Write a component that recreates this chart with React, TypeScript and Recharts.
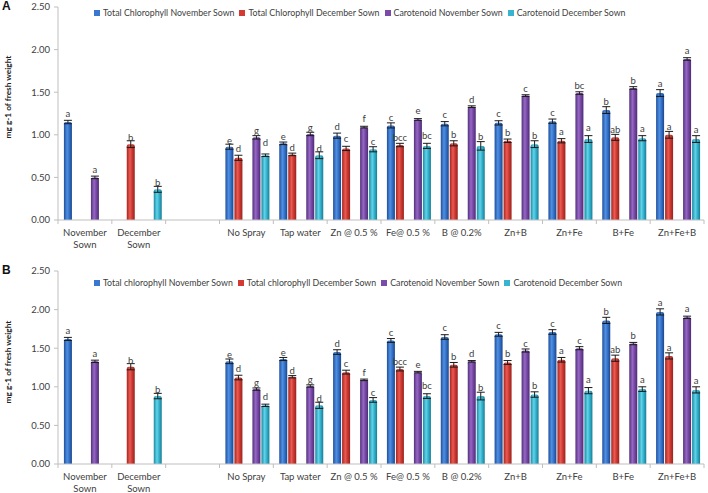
import React from 'react';
import { BarChart, Bar, XAxis, YAxis, ErrorBar, LabelList, Legend, Label } from 'recharts';

const categories = ['November\nSown', 'December\nSown', ' ', 'No Spray', 'Tap water', 'Zn @ 0.5 %', 'Fe@ 0.5 %', 'B @ 0.2%', 'Zn+B', 'Zn+Fe', 'B+Fe', 'Zn+Fe+B'];
const yTicks = [0, 0.5, 1, 1.5, 2, 2.5];

const seriesNamesA = ['Total Chlorophyll November Sown', 'Total Chlorophyll December Sown', 'Carotenoid November Sown', 'Carotenoid December Sown'];
const seriesNamesB = ['Total chlorophyll November Sown', 'Total chlorophyll December Sown', 'Carotenoid November Sown', 'Carotenoid December Sown'];

// Panel A
const chlNovA = [1.15, null, null, 0.86, 0.90, 0.99, 1.11, 1.13, 1.14, 1.16, 1.29, 1.49];
const chlDecA = [null, 0.89, null, 0.73, 0.77, 0.84, 0.88, 0.90, 0.93, 0.93, 0.97, 1.00];
const carNovA = [0.50, null, null, 0.97, 1.01, 1.09, 1.18, 1.33, 1.46, 1.49, 1.55, 1.89];
const carDecA = [null, 0.36, null, 0.76, 0.76, 0.83, 0.87, 0.87, 0.89, 0.95, 0.96, 0.95];
const chlNovErrA = [0.02, null, null, 0.03, 0.015, 0.03, 0.03, 0.025, 0.025, 0.025, 0.04, 0.04];
const chlDecErrA = [null, 0.04, null, 0.03, 0.015, 0.025, 0.02, 0.03, 0.02, 0.025, 0.035, 0.04];
const carNovErrA = [0.015, null, null, 0.02, 0.02, 0.01, 0.01, 0.01, 0.01, 0.015, 0.015, 0.015];
const carDecErrA = [null, 0.035, null, 0.015, 0.04, 0.03, 0.03, 0.05, 0.04, 0.04, 0.03, 0.04];
const chlNovLetA = ['a', '', '', 'e', 'e', 'd', 'c', 'c', 'c', 'c', 'b', 'a'];
const chlDecLetA = ['', 'b', '', 'd', 'd', 'c', 'bcc', 'b', 'b', 'a', 'ab', 'a'];
const carNovLetA = ['a', '', '', 'g', 'g', 'f', 'e', 'd', 'c', 'bc', 'b', 'a'];
const carDecLetA = ['', 'b', '', 'd', 'd', 'c', 'bc', 'b', 'b', 'a', 'a', 'a'];

// Panel B
const chlNovB = [1.62, null, null, 1.33, 1.36, 1.45, 1.60, 1.645, 1.68, 1.71, 1.86, 1.97];
const chlDecB = [null, 1.26, null, 1.12, 1.13, 1.19, 1.23, 1.285, 1.315, 1.35, 1.37, 1.40];
const carNovB = [1.33, null, null, 0.97, 1.01, 1.09, 1.19, 1.33, 1.47, 1.50, 1.56, 1.90];
const carDecB = [null, 0.88, null, 0.76, 0.76, 0.83, 0.88, 0.88, 0.90, 0.95, 0.97, 0.96];
const chlNovErrB = [0.02, null, null, 0.03, 0.02, 0.03, 0.025, 0.03, 0.025, 0.03, 0.04, 0.04];
const chlDecErrB = [null, 0.04, null, 0.03, 0.015, 0.025, 0.025, 0.03, 0.025, 0.03, 0.04, 0.04];
const carNovErrB = [0.015, null, null, 0.015, 0.015, 0.01, 0.01, 0.01, 0.02, 0.02, 0.015, 0.015];
const carDecErrB = [null, 0.035, null, 0.015, 0.04, 0.03, 0.03, 0.05, 0.035, 0.04, 0.03, 0.04];
const chlNovLetB = ['a', '', '', 'e', 'e', 'd', 'c', 'c', 'c', 'c', 'b', 'a'];
const chlDecLetB = ['', 'b', '', 'd', 'd', 'c', 'bcc', 'b', 'b', 'a', 'ab', 'a'];
const carNovLetB = ['a', '', '', 'g', 'g', 'f', 'e', 'd', 'c', 'c', 'b', 'a'];
const carDecLetB = ['', 'b', '', 'd', 'd', 'c', 'bc', 'b', 'b', 'a', 'a', 'a'];

const FONT = 'Lato, "Open Sans", sans-serif';
const TEXT = '#404040';
const AXIS = '#bfbfbf';

const gradStops: Record<string, string[]> = {
  blue: ['#1f4f9c', '#4f90e2', '#3673c9', '#1a468c'],
  red: ['#a3261f', '#ec5a52', '#cc3a33', '#9a231d'],
  purple: ['#53307c', '#9668c4', '#7849a6', '#4d2c74'],
  cyan: ['#1b8aa3', '#62d3e8', '#36b3cf', '#187d95'],
};
const legendColors = ['#3a78cf', '#d33a33', '#7a4ca8', '#38b4cf'];

function buildData(cn: any[], cd: any[], pn: any[], pd: any[], cne: any[], cde: any[], pne: any[], pde: any[], cnl: string[], cdl: string[], pnl: string[], pdl: string[]) {
  return categories.map((name, i) => ({
    name,
    chlNov: cn[i], chlDec: cd[i], gap: null, carNov: pn[i], carDec: pd[i],
    chlNovErr: cne[i], chlDecErr: cde[i], carNovErr: pne[i], carDecErr: pde[i],
    chlNovLet: cnl[i], chlDecLet: cdl[i], carNovLet: pnl[i], carDecLet: pdl[i],
  }));
}

const dataA = buildData(chlNovA, chlDecA, carNovA, carDecA, chlNovErrA, chlDecErrA, carNovErrA, carDecErrA, chlNovLetA, chlDecLetA, carNovLetA, carDecLetA);
const dataB = buildData(chlNovB, chlDecB, carNovB, carDecB, chlNovErrB, chlDecErrB, carNovErrB, carDecErrB, chlNovLetB, chlDecLetB, carNovLetB, carDecLetB);

const makeLetter = (data: any[], key: string) => (props: any) => {
  const vb = props.viewBox || {};
  const x = props.x ?? vb.x;
  const y = props.y ?? vb.y;
  const width = props.width ?? vb.width;
  const height = props.height ?? vb.height;
  const index = props.index;
  const value = props.value;
  if (!value || x == null || index == null) return null;
  const row = data[index];
  const v = row[key];
  const e = row[key + 'Err'] || 0;
  const pxPer = v ? Math.abs(height) / v : 0;
  return (
    <text x={x + width / 2} y={y - e * pxPer - 3} textAnchor="middle" fontSize={9.5} fill={TEXT} fontFamily={FONT}>
      {value}
    </text>
  );
};

const XTick = (props: any) => {
  const { x, y, payload, index, visibleTicksCount } = props;
  const half = payload && payload.offset ? payload.offset : 26.9;
  const lines = String(payload.value).split('\n');
  const ay = y - 4;
  return (
    <g>
      <line x1={x - half} x2={x - half} y1={ay} y2={ay + 4} stroke={AXIS} />
      {index === (visibleTicksCount ?? 12) - 1 && <line x1={x + half} x2={x + half} y1={ay} y2={ay + 4} stroke={AXIS} />}
      {lines.map((l, i) => (
        <text key={i} x={x} y={ay + 16 + i * 12} textAnchor="middle" fontSize={9.5} fill={TEXT} fontFamily={FONT}>{l}</text>
      ))}
    </g>
  );
};

const LegendContent = (names: string[]) => () => (
  <div style={{ display: 'flex', alignItems: 'center', whiteSpace: 'nowrap', fontFamily: FONT, fontSize: 8.8, color: TEXT }}>
    {names.map((n, i) => (
      <span key={n} style={{ display: 'flex', alignItems: 'center', marginRight: 5 }}>
        <span style={{ display: 'inline-block', width: 6, height: 6, background: legendColors[i], marginRight: 3 }} />
        <span>{n}</span>
      </span>
    ))}
  </div>
);

const Panel = ({ data, names, prefix, height, top, bottom, xHeight, legendTop, labelCy }: any) => {
  const barProps = (key: string, color: string) => ({
    dataKey: key,
    fill: `url(#${prefix}-${color})`,
    isAnimationActive: false,
    radius: [2, 2, 0, 0] as any,
  });
  return (
    <BarChart width={708} height={height} data={data} margin={{ top, right: 4, bottom, left: 0 }} barCategoryGap="11%" barGap={1}>
      <defs>
        {Object.keys(gradStops).map((c) => (
          <linearGradient key={c} id={`${prefix}-${c}`} x1="0" y1="0" x2="1" y2="0">
            <stop offset="0%" stopColor={gradStops[c][0]} />
            <stop offset="40%" stopColor={gradStops[c][1]} />
            <stop offset="65%" stopColor={gradStops[c][2]} />
            <stop offset="100%" stopColor={gradStops[c][3]} />
          </linearGradient>
        ))}
      </defs>
      <XAxis dataKey="name" interval={0} tickLine={false} tickSize={4} tickMargin={0} height={xHeight} axisLine={{ stroke: AXIS }} tick={<XTick />} />
      <YAxis domain={[0, 2.5]} ticks={yTicks} width={58} tickFormatter={(v: number) => v.toFixed(2)} axisLine={{ stroke: AXIS }} tickLine={{ stroke: AXIS }} tickSize={4} tickMargin={4} tick={{ fontSize: 9.5, fill: TEXT, fontFamily: FONT }} interval={0}>
        <Label content={() => (
          <text transform={`translate(11, ${labelCy}) rotate(-90)`} textAnchor="middle" fontSize={8.3} fontWeight="bold" fill="#222" fontFamily={FONT}>
            mg g-1 of fresh weight
          </text>
        )} />
      </YAxis>
      <Legend layout="horizontal" verticalAlign="middle" align="center" content={LegendContent(names)} wrapperStyle={{ top: legendTop, left: 94, width: 'auto', height: 'auto' }} />
      <Bar {...barProps('chlNov', 'blue')} name={names[0]}>
        <ErrorBar dataKey="chlNovErr" width={4} stroke="#1a1a1a" strokeWidth={1} />
        <LabelList dataKey="chlNovLet" content={makeLetter(data, 'chlNov')} />
      </Bar>
      <Bar {...barProps('chlDec', 'red')} name={names[1]}>
        <ErrorBar dataKey="chlDecErr" width={4} stroke="#1a1a1a" strokeWidth={1} />
        <LabelList dataKey="chlDecLet" content={makeLetter(data, 'chlDec')} />
      </Bar>
      <Bar dataKey="gap" fill="none" legendType="none" isAnimationActive={false} />
      <Bar {...barProps('carNov', 'purple')} name={names[2]}>
        <ErrorBar dataKey="carNovErr" width={4} stroke="#1a1a1a" strokeWidth={1} />
        <LabelList dataKey="carNovLet" content={makeLetter(data, 'carNov')} />
      </Bar>
      <Bar {...barProps('carDec', 'cyan')} name={names[3]}>
        <ErrorBar dataKey="carDecErr" width={4} stroke="#1a1a1a" strokeWidth={1} />
        <LabelList dataKey="carDecLet" content={makeLetter(data, 'carDec')} />
      </Bar>
    </BarChart>
  );
};

export default function App() {
  return (
    <div style={{ position: 'absolute', left: 0, top: 0, width: 708, height: 493, background: '#fff', overflow: 'hidden' }}>
      <div style={{ position: 'absolute', left: 0, top: 0 }}>
        <Panel data={dataA} names={seriesNamesA} prefix="a" height={252} top={7} bottom={7} xHeight={25} legendTop={7} labelCy={97} />
      </div>
      <div style={{ position: 'absolute', left: 0, top: 252 }}>
        <Panel data={dataB} names={seriesNamesB} prefix="b" height={241} top={19} bottom={0} xHeight={29} legendTop={25} labelCy={110} />
      </div>
      <div style={{ position: 'absolute', left: 2, top: -1, fontFamily: '"Liberation Sans", Arial, sans-serif', fontWeight: 'bold', fontSize: 12, color: '#111' }}>A</div>
      <div style={{ position: 'absolute', left: 2, top: 263, fontFamily: '"Liberation Sans", Arial, sans-serif', fontWeight: 'bold', fontSize: 12, color: '#111' }}>B</div>
    </div>
  );
}
